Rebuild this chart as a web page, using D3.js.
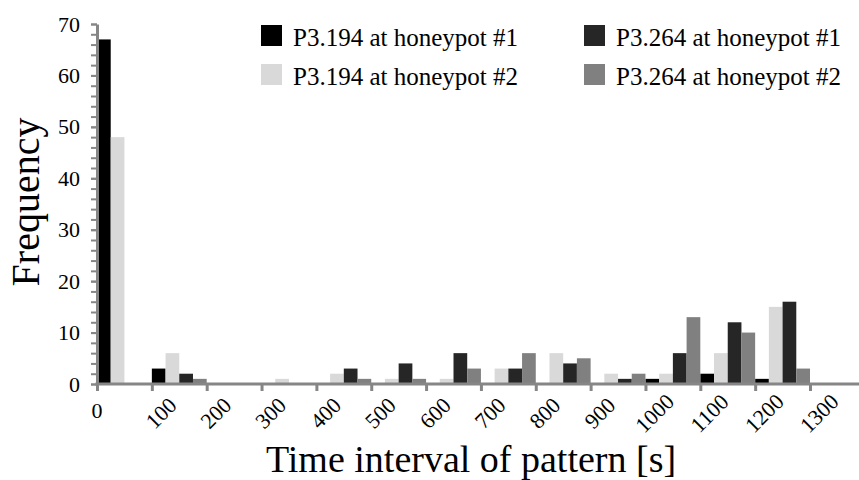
<!DOCTYPE html>
<html>
<head>
<meta charset="utf-8">
<script src="https://cdn.jsdelivr.net/npm/d3@7"></script>
<style>
  body { margin: 0; background: #fff; }
</style>
</head>
<body>
<div id="chart"></div>
<script>
// histogram bins (lower edge, seconds)
const bins = [0, 100, 200, 300, 400, 500, 600, 700, 800, 900, 1000, 1100, 1200];
const xTicks = [0, 100, 200, 300, 400, 500, 600, 700, 800, 900, 1000, 1100, 1200, 1300];
const yTicks = [0, 10, 20, 30, 40, 50, 60, 70];

const seriesNames = ["P3.194 at honeypot #1", "P3.194 at honeypot #2",
                     "P3.264 at honeypot #1", "P3.264 at honeypot #2"];
const seriesColors = ["#000000", "#d9d9d9", "#262626", "#808080"];

const p194_hp1 = [67, 3, 0, 0, 0, 0, 0, 0, 0, 0, 1, 2, 1];
const p194_hp2 = [48, 6, 0, 1, 2, 1, 1, 3, 6, 2, 2, 6, 15];
const p264_hp1 = [0, 2, 0, 0, 3, 4, 6, 3, 4, 1, 6, 12, 16];
const p264_hp2 = [0, 1, 0, 0, 1, 1, 3, 6, 5, 2, 13, 10, 3];
const allSeries = [p194_hp1, p194_hp2, p264_hp1, p264_hp2];

const width = 859, height = 480;
const axisColor = "#868686";
const serif = "'Liberation Serif', 'Times New Roman', serif";

let svg = d3.select("#chart")
    .append("svg")
    .attr("width", width)
    .attr("height", height)
    .attr("font-family", serif);

let x = d3.scaleLinear().domain([0, 1300]).range([97, 810]);
let y = d3.scaleLinear().domain([0, 70]).range([384, 24]);

// bars: four per bin, no gap
let binW = x(100) - x(0);
let barW = binW / 4;

let barData = [];
allSeries.forEach(function(s, i) {
  s.forEach(function(v, j) {
    barData.push({series: i, bin: bins[j], value: v});
  });
});

svg.append("g")
  .selectAll("rect")
  .data(barData.filter(d => d.value > 0))
  .enter()
  .append("rect")
  .attr("x", d => x(d.bin) + d.series * barW)
  .attr("y", d => y(d.value))
  .attr("width", barW)
  .attr("height", d => y(0) - y(d.value))
  .attr("fill", d => seriesColors[d.series]);

// y axis: minor ticks every 2, labels every 10
let yMinor = svg.append("g")
  .attr("transform", `translate(${x(0)},0)`)
  .call(d3.axisLeft(y).tickValues(d3.range(0, 71, 2)).tickSize(6).tickFormat(""));
yMinor.select(".domain").remove();
yMinor.selectAll("line").attr("stroke", axisColor).attr("stroke-width", 2);

let yAxis = svg.append("g")
  .attr("transform", `translate(${x(0)},0)`)
  .call(d3.axisLeft(y).tickValues(yTicks).tickSize(6).tickPadding(11).tickSizeOuter(0));
yAxis.attr("font-family", serif).attr("font-size", 22);
yAxis.select(".domain").attr("stroke", axisColor).attr("stroke-width", 3);
yAxis.selectAll("line").attr("stroke", axisColor).attr("stroke-width", 2);
yAxis.selectAll("text").attr("fill", "#000");

// x axis
let xAxis = svg.append("g")
  .attr("transform", `translate(0,${y(0)})`)
  .call(d3.axisBottom(x).tickValues(xTicks).tickSize(7).tickSizeOuter(0).tickFormat(""));
xAxis.select(".domain").remove();
xAxis.selectAll("line").attr("stroke", axisColor).attr("stroke-width", 3);
svg.append("line")
  .attr("x1", x(0) - 1.5).attr("x2", width)
  .attr("y1", y(0)).attr("y2", y(0))
  .attr("stroke", axisColor)
  .attr("stroke-width", 3);

// rotated tick labels
let xLabels = svg.append("g")
  .selectAll("g")
  .data(xTicks)
  .enter()
  .append("g")
  .attr("transform", d => d === 0 ? `translate(${x(0)},410)` : `translate(${x(d) + 9},413)`);

xLabels.append("text")
  .attr("transform", d => d === 0 ? null : "rotate(-45)")
  .attr("text-anchor", "middle")
  .attr("dy", "0.35em")
  .attr("font-family", serif)
  .attr("font-size", 22)
  .text(d => d);

// axis titles
svg.append("text")
  .attr("x", 471)
  .attr("y", 472)
  .attr("text-anchor", "middle")
  .attr("font-family", serif)
  .attr("font-size", 38)
  .text("Time interval of pattern [s]");

svg.append("text")
  .attr("transform", "translate(39,202) rotate(-90)")
  .attr("text-anchor", "middle")
  .attr("font-family", serif)
  .attr("font-size", 40)
  .text("Frequency");

// legend, two columns
const legendPos = [[261, 25], [261, 64], [584, 25], [584, 64]];
let legend = svg.append("g")
  .selectAll("g")
  .data(seriesNames)
  .enter()
  .append("g")
  .attr("transform", (d, i) => `translate(${legendPos[i][0]},${legendPos[i][1]})`);

legend.append("rect")
  .attr("width", 21)
  .attr("height", 21)
  .attr("fill", (d, i) => seriesColors[i]);

legend.append("text")
  .attr("x", 32)
  .attr("y", 21)
  .attr("font-family", serif)
  .attr("font-size", 25)
  .text(d => d);
</script>
</body>
</html>
